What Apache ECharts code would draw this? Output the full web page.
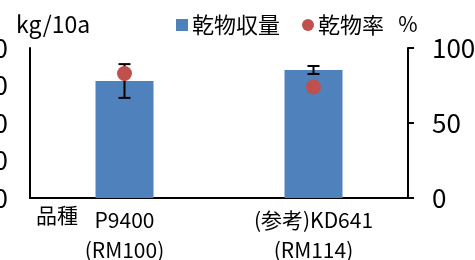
<!DOCTYPE html>
<html>
<head>
<meta charset="utf-8">
<script src="https://cdn.jsdelivr.net/npm/echarts@6/dist/echarts.min.js"></script>
<style>
html, body { margin: 0; padding: 0; background: #fff; }
#chart { width: 475px; height: 260px; }
</style>
</head>
<body>
<div id="chart"></div>
<script>
// 品種ごとの乾物収量と乾物率
const varieties = ['P9400\n(RM100)', '(参考)KD641\n(RM114)']
const dryYield = [1560, 1707]      // kg/10a
const dryYieldErr = [225, 53]      // 標準誤差
const dryRate = [83, 74]           // %
const yieldTicks = [0, 500, 1000, 1500, 2000]
const rateTicks = [0, 50, 100]

const FONT = '"Noto Sans CJK JP", "Noto Sans", sans-serif'

const chart = echarts.init(document.getElementById('chart'))

chart.setOption({
    animation: false,
    textStyle: { fontFamily: FONT, color: '#000' },
    title: {
        text: 'kg/10a',
        left: 11,
        top: 8,
        textStyle: { fontFamily: FONT, fontSize: 23, fontWeight: 'normal', color: '#000' }
    },
    legend: {
        left: 171,
        top: 9,
        itemWidth: 12,
        itemHeight: 12,
        itemGap: 22,
        textStyle: { fontFamily: FONT, fontSize: 22, color: '#000', padding: [0, 0, 0, -1] },
        data: [
            { name: '乾物収量', icon: 'rect' },
            { name: '乾物率', icon: 'circle' }
        ]
    },
    grid: { left: 30, right: 67, top: 48, bottom: 62, outerBoundsMode: 'none', containLabel: false },
    xAxis: {
        type: 'category',
        data: varieties,
        axisLine: { lineStyle: { color: '#000', width: 2 } },
        axisTick: { show: false },
        axisLabel: { fontFamily: FONT, fontSize: 21, color: '#000', lineHeight: 30, margin: 7, interval: 0 }
    },
    yAxis: [
        {
            type: 'value',
            min: yieldTicks[0],
            max: yieldTicks[yieldTicks.length - 1],
            interval: yieldTicks[1] - yieldTicks[0],
            axisLine: { show: true, lineStyle: { color: '#000', width: 2 } },
            axisTick: { show: false },
            splitLine: { show: false },
            axisLabel: { fontFamily: FONT, fontSize: 26, color: '#000', margin: 22, formatter: v => String(v) }
        },
        {
            type: 'value',
            min: rateTicks[0],
            max: rateTicks[rateTicks.length - 1],
            interval: rateTicks[1] - rateTicks[0],
            name: '%',
            nameLocation: 'end',
            nameGap: 13,
            nameTextStyle: { fontFamily: FONT, fontSize: 21, color: '#000', align: 'center' },
            axisLine: { show: true, lineStyle: { color: '#000', width: 2 } },
            axisTick: { show: true, inside: false, length: 6, lineStyle: { color: '#000', width: 2 } },
            splitLine: { show: false },
            axisLabel: { fontFamily: FONT, fontSize: 26, color: '#000', margin: 24 }
        }
    ],
    series: [
        {
            name: '乾物収量',
            type: 'bar',
            data: dryYield,
            barWidth: 58,
            itemStyle: { color: '#4F81BD' },
            z: 2
        },
        {
            name: 'err',
            type: 'custom',
            data: dryYield.map((v, i) => [i, v - dryYieldErr[i], v + dryYieldErr[i]]),
            renderItem(params, api) {
                const lo = api.coord([api.value(0), api.value(1)])
                const hi = api.coord([api.value(0), api.value(2)])
                const hw = 6
                const style = { stroke: '#000', lineWidth: 2 }
                return {
                    type: 'group',
                    children: [
                        { type: 'line', shape: { x1: lo[0], y1: lo[1], x2: hi[0], y2: hi[1] }, style },
                        { type: 'line', shape: { x1: lo[0] - hw, y1: lo[1], x2: lo[0] + hw, y2: lo[1] }, style },
                        { type: 'line', shape: { x1: hi[0] - hw, y1: hi[1], x2: hi[0] + hw, y2: hi[1] }, style }
                    ]
                }
            },
            z: 3
        },
        {
            name: '乾物率',
            type: 'scatter',
            yAxisIndex: 1,
            data: dryRate,
            symbolSize: 15,
            itemStyle: { color: '#C0504D', opacity: 1 },
            z: 4
        }
    ],
    graphic: [
        {
            type: 'text',
            x: 36,
            y: 205,
            style: { text: '品種', fontFamily: FONT, fontSize: 21, fill: '#000' }
        }
    ]
})
</script>
</body>
</html>
